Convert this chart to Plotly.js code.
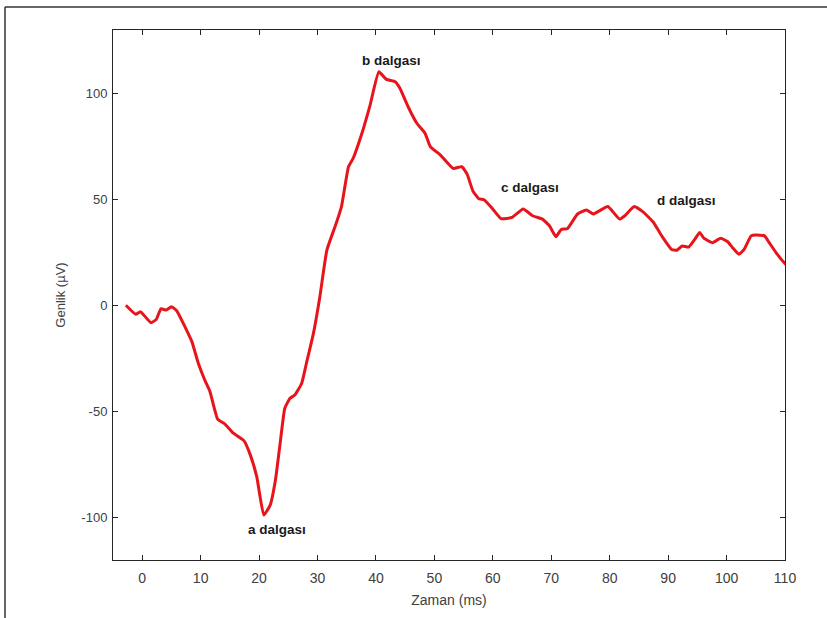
<!DOCTYPE html>
<html>
<head>
<meta charset="utf-8">
<script src="https://cdn.plot.ly/plotly-3.0.1.min.js"></script>
<style>html,body{margin:0;padding:0;background:#fff;}#chart{width:827px;height:618px;}</style>
</head>
<body>
<div id="chart"></div>
<script>
// Time (ms)
const timeMs = [-2.8,-1.1,-0.3,1.5,2.4,3.2,4.1,5.0,5.9,7.3,8.5,9.6,10.7,11.6,12.9,14.2,15.6,17.4,18.4,19.6,20.8,21.9,22.8,23.6,24.4,25.3,26.1,27.3,28.1,29.3,30.4,31.6,33.2,34.1,35.3,36.1,37.6,39.0,40.5,41.8,43.3,44.1,45.5,47.0,48.4,49.3,51.0,53.2,54.7,55.6,56.6,57.6,58.5,60.0,61.4,63.3,65.2,66.8,68.5,69.7,70.8,71.7,72.8,74.5,76.0,77.2,78.3,79.7,81.7,82.6,84.2,85.8,87.5,88.9,90.6,91.5,92.4,93.5,94.7,95.4,96.1,97.6,99.0,100.2,101.0,102.1,103.0,104.2,105.0,106.5,107.3,108.5,109.4,110.3];
// Amplitude (µV)
const amplitude = [0.2,-4.1,-2.9,-8.1,-6.5,-1.5,-2.1,-0.5,-2.4,-9.9,-17,-27.2,-35.1,-40.6,-53.5,-56,-60.2,-63.7,-69.7,-80.7,-98.8,-94.1,-82.3,-65,-48.4,-43.7,-42.2,-36.6,-27.2,-13.1,4.2,26.2,38.8,46.7,65.5,69.5,81.3,94.6,110.3,106.7,105.6,102.5,93.8,86,81.3,75,71.1,64.7,65.5,62,54,50.4,49.9,45.5,41,41.6,45.6,42.4,40.8,37.6,32.5,35.9,36.4,43.2,45.1,43.2,44.8,46.7,40.8,42.4,46.7,44,39.2,32.9,26.5,26.1,28.1,27.6,31.8,34.5,31.8,29.7,31.8,30.1,27.4,24.2,26.5,32.9,33.3,32.9,29.7,24.9,21.7,19];
// Wave labels
const waveLabels = ["a dalgası","b dalgası","c dalgası","d dalgası"];
const waveX = [23.1, 42.7, 66.4, 93.1];
const waveY = [-105.5, 115.8, 55.5, 49.8];
const xTicks = [0,10,20,30,40,50,60,70,80,90,100,110];
const yTicks = [-100,-50,0,50,100];

const axisCol = '#262626';
const tickFont = {family: 'Liberation Sans, Arial, sans-serif', size: 13, color: '#404040'};
const narrowFont = 'Liberation Sans Narrow, Arial Narrow, Liberation Sans, sans-serif';

const data = [{
  x: timeMs, y: amplitude, type: 'scatter', mode: 'lines',
  line: {color: '#e8141b', width: 3, shape: 'spline', smoothing: 0.4},
  hoverinfo: 'skip'
}];

const annotations = waveLabels.map((t, i) => ({
  x: waveX[i], y: waveY[i], xref: 'x', yref: 'y', text: t, showarrow: false,
  font: {family: 'Liberation Sans, Arial, sans-serif', size: 13.5, color: '#1a1a1a', weight: 'bold'}
}));

const layout = {
  width: 827, height: 618,
  margin: {l: 113, r: 42, t: 30, b: 58},
  paper_bgcolor: '#ffffff', plot_bgcolor: '#ffffff',
  showlegend: false,
  xaxis: {
    range: [-5, 110], tickvals: xTicks, ticktext: xTicks.map(String),
    ticks: 'inside', ticklen: 5, tickcolor: axisCol, tickwidth: 1,
    showline: true, linecolor: axisCol, linewidth: 1, mirror: 'ticks',
    showgrid: false, zeroline: false, ticklabelstandoff: 5,
    tickfont: {family: narrowFont, size: 14, color: '#404040'},
    title: {text: 'Zaman (ms)', font: {family: narrowFont, size: 14, color: '#404040'}, standoff: 10}
  },
  yaxis: {
    range: [-120, 130], tickvals: yTicks, ticktext: yTicks.map(String),
    ticks: 'inside', ticklen: 5, tickcolor: axisCol, tickwidth: 1,
    showline: true, linecolor: axisCol, linewidth: 1, mirror: 'ticks',
    showgrid: false, zeroline: false, ticklabelstandoff: 2,
    tickfont: tickFont,
    title: {text: 'Genlik (µV)', font: {family: 'Liberation Sans, Arial, sans-serif', size: 13, color: '#404040'}, standoff: 12}
  },
  annotations: annotations,
  shapes: [
    {type: 'line', xref: 'paper', yref: 'paper', x0: -0.1607, x1: 1.2, y0: 1.0434, y1: 1.0434, line: {color: '#333', width: 1.5}},
    {type: 'line', xref: 'paper', yref: 'paper', x0: -0.1607, x1: -0.1607, y0: 1.0434, y1: -0.2, line: {color: '#333', width: 1.5}}
  ]
};

Plotly.newPlot('chart', data, layout, {displayModeBar: false, staticPlot: true});
</script>
</body>
</html>
